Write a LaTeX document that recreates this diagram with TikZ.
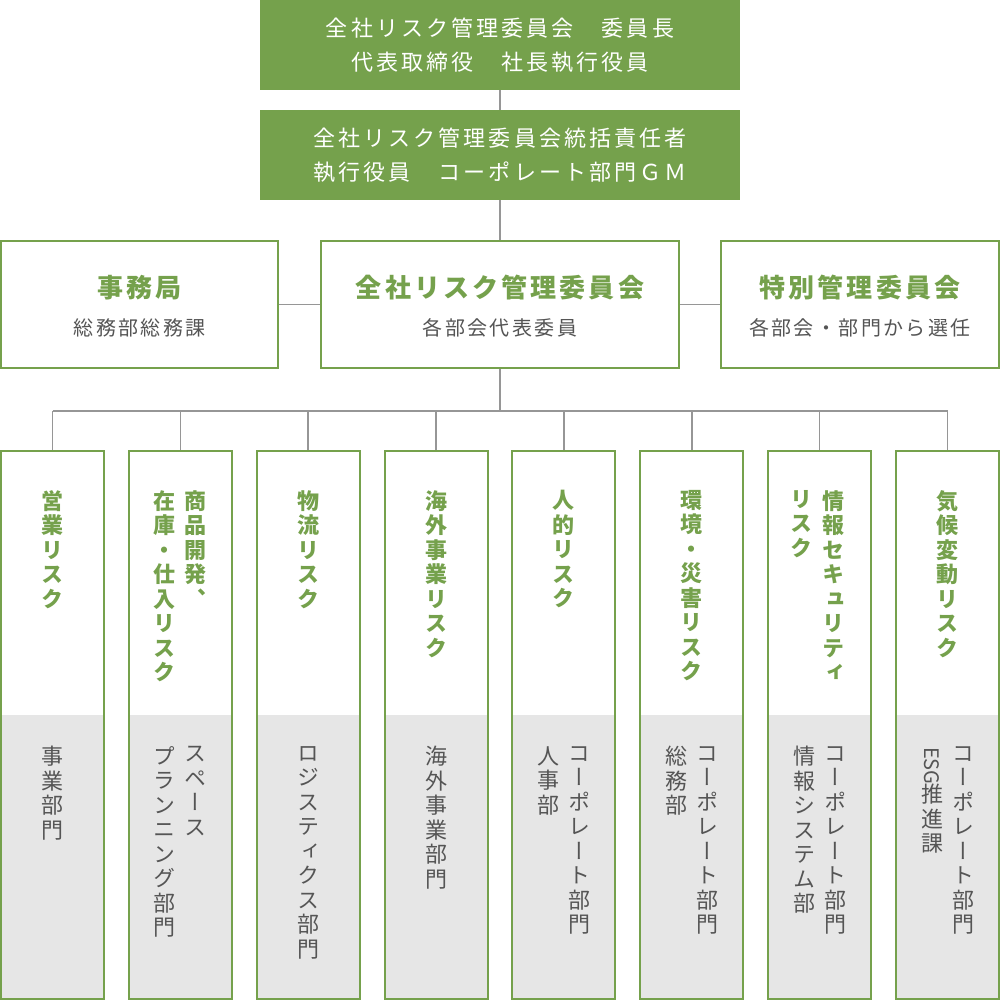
\documentclass[tikz,border=0pt]{standalone}
\usepackage{fontspec}
\newfontfamily\jpfont{Noto Sans CJK JP}
\newfontfamily\jpwide[LetterSpace=14]{Noto Sans CJK JP}
\newfontfamily\jpmid[LetterSpace=12]{Noto Sans CJK JP}
\newfontfamily\jptate[RawFeature=+vert]{Noto Sans CJK JP}
\definecolor{leafgreen}{RGB}{117,161,76}
\definecolor{inkgray}{RGB}{85,85,85}
\definecolor{linegray}{RGB}{150,150,150}
\definecolor{panelgray}{RGB}{230,230,230}

\begin{document}
\begin{tikzpicture}[
    x=1pt, y=-1pt,
    headbox/.style={rectangle, fill=leafgreen, minimum width=480pt, minimum height=90pt, inner sep=0pt, text=white, align=center, font=\jpwide\fontsize{22}{34}\selectfont},
    unitbox/.style={rectangle, draw=leafgreen, line width=2pt, fill=white, minimum height=127.3pt, inner sep=0pt},
    unittitle/.style={inner sep=0pt, text=leafgreen, font=\jpmid\bfseries\fontsize{26}{30}\selectfont},
    unitsub/.style={inner sep=0pt, text=inkgray, font=\jpmid\fontsize{20}{24}\selectfont},
    riskbox/.style={rectangle, draw=leafgreen, line width=2pt, minimum width=103pt, minimum height=548pt, inner sep=0pt},
    risktext/.style={anchor=north, inner sep=0pt, align=center, text=leafgreen, font=\jptate\bfseries\fontsize{22}{24.5}\selectfont},
    depttext/.style={anchor=north, inner sep=0pt, align=center, text=inkgray, font=\jptate\fontsize{22}{24.5}\selectfont},
    link/.style={draw=linegray, line width=1.5pt}
]
\useasboundingbox (0,0) rectangle (1000,1000);

\node[headbox] (chair) at (500,45) {全社リスク管理委員会　委員長\\代表取締役　社長執行役員};
\node[headbox] (chief) at (500,155) {全社リスク管理委員会統括責任者\\執行役員　コーポレート部門ＧＭ};

\node[unitbox, minimum width=277.3pt] (office) at (139.7,304.7) {};
\node[unitbox, minimum width=358pt] (council) at (500,304.7) {};
\node[unitbox, minimum width=278pt] (special) at (860,304.7) {};

% Unit labels
\node[unittitle] (officet) at (139.7,288) {事務局};
\node[unitsub] (offices) at (139.7,328) {総務部総務課};
\node[unittitle] (councilt) at (500,288) {全社リスク管理委員会};
\node[unitsub] (councils) at (500,328) {各部会代表委員};
\node[unittitle] (specialt) at (860,288) {特別管理委員会};
\node[unitsub] (specials) at (860,328) {各部会・部門から選任};

\draw[link] (chair) -- (chief);
\draw[link] (chief) -- (council);
\draw[link] (office) -- (council);
\draw[link] (council) -- (special);

\coordinate (bus) at (500,411);
\draw[link] (council.south) -- (bus);

\foreach \i/\cx in {1/52.5,2/180.4,3/308.2,4/436.1,5/563.9,6/691.8,7/819.6,8/947.5} {
    \fill[panelgray] (\cx-51.5,715) rectangle (\cx+51.5,999);
    \node[riskbox] (r\i) at (\cx,725) {};
    \draw[link] (r\i.north) -- (r\i.north |- bus);
}
\draw[link] (r1.north |- bus) -- (r8.north |- bus);

% Risk labels
\node[risktext] (k1) at (52.5,490) {営\\業\\リ\\ス\\ク};
\node[risktext] (k2a) at (195.9,490) {商\\品\\開\\発\\、};
\node[risktext] (k2b) at (164.9,490) {在\\庫\\・\\仕\\入\\リ\\ス\\ク};
\node[risktext] (k3) at (308.2,490) {物\\流\\リ\\ス\\ク};
\node[risktext] (k4) at (436.1,490) {海\\外\\事\\業\\リ\\ス\\ク};
\node[risktext] (k5) at (563.9,490) {人\\的\\リ\\ス\\ク};
\node[risktext] (k6) at (691.8,490) {環\\境\\・\\災\\害\\リ\\ス\\ク};
\node[risktext] (k7a) at (833.6,490) {情\\報\\セ\\キ\\ュ\\リ\\テ\\ィ};
\node[risktext] (k7b) at (801.6,490) {リ\\ス\\ク};
\node[risktext] (k8) at (947.5,490) {気\\候\\変\\動\\リ\\ス\\ク};

% Owner departments
\node[depttext] (d1) at (52.5,746) {事\\業\\部\\門};
\node[depttext] (d2a) at (195.9,746) {ス\\ペ\\ー\\ス};
\node[depttext] (d2b) at (164.9,746) {プ\\ラ\\ン\\ニ\\ン\\グ\\部\\門};
\node[depttext] (d3) at (308.2,746) {ロ\\ジ\\ス\\テ\\ィ\\ク\\ス\\部\\門};
\node[depttext] (d4) at (436.1,746) {海\\外\\事\\業\\部\\門};
\node[depttext] (d5a) at (579.4,746) {コ\\ー\\ポ\\レ\\ー\\ト\\部\\門};
\node[depttext] (d5b) at (548.4,746) {人\\事\\部};
\node[depttext] (d6a) at (707.3,746) {コ\\ー\\ポ\\レ\\ー\\ト\\部\\門};
\node[depttext] (d6b) at (676.3,746) {総\\務\\部};
\node[depttext] (d7a) at (835.1,746) {コ\\ー\\ポ\\レ\\ー\\ト\\部\\門};
\node[depttext] (d7b) at (804.1,746) {情\\報\\シ\\ス\\テ\\ム\\部};
\node[depttext] (d8a) at (963,746) {コ\\ー\\ポ\\レ\\ー\\ト\\部\\門};
\node[depttext, font=\jpfont\fontsize{20}{24}\selectfont, rotate=-90, anchor=west] (d8c) at (932,747) {ESG};
\node[depttext] (d8b) at (932,784) {推\\進\\課};
\end{tikzpicture}
\end{document}
